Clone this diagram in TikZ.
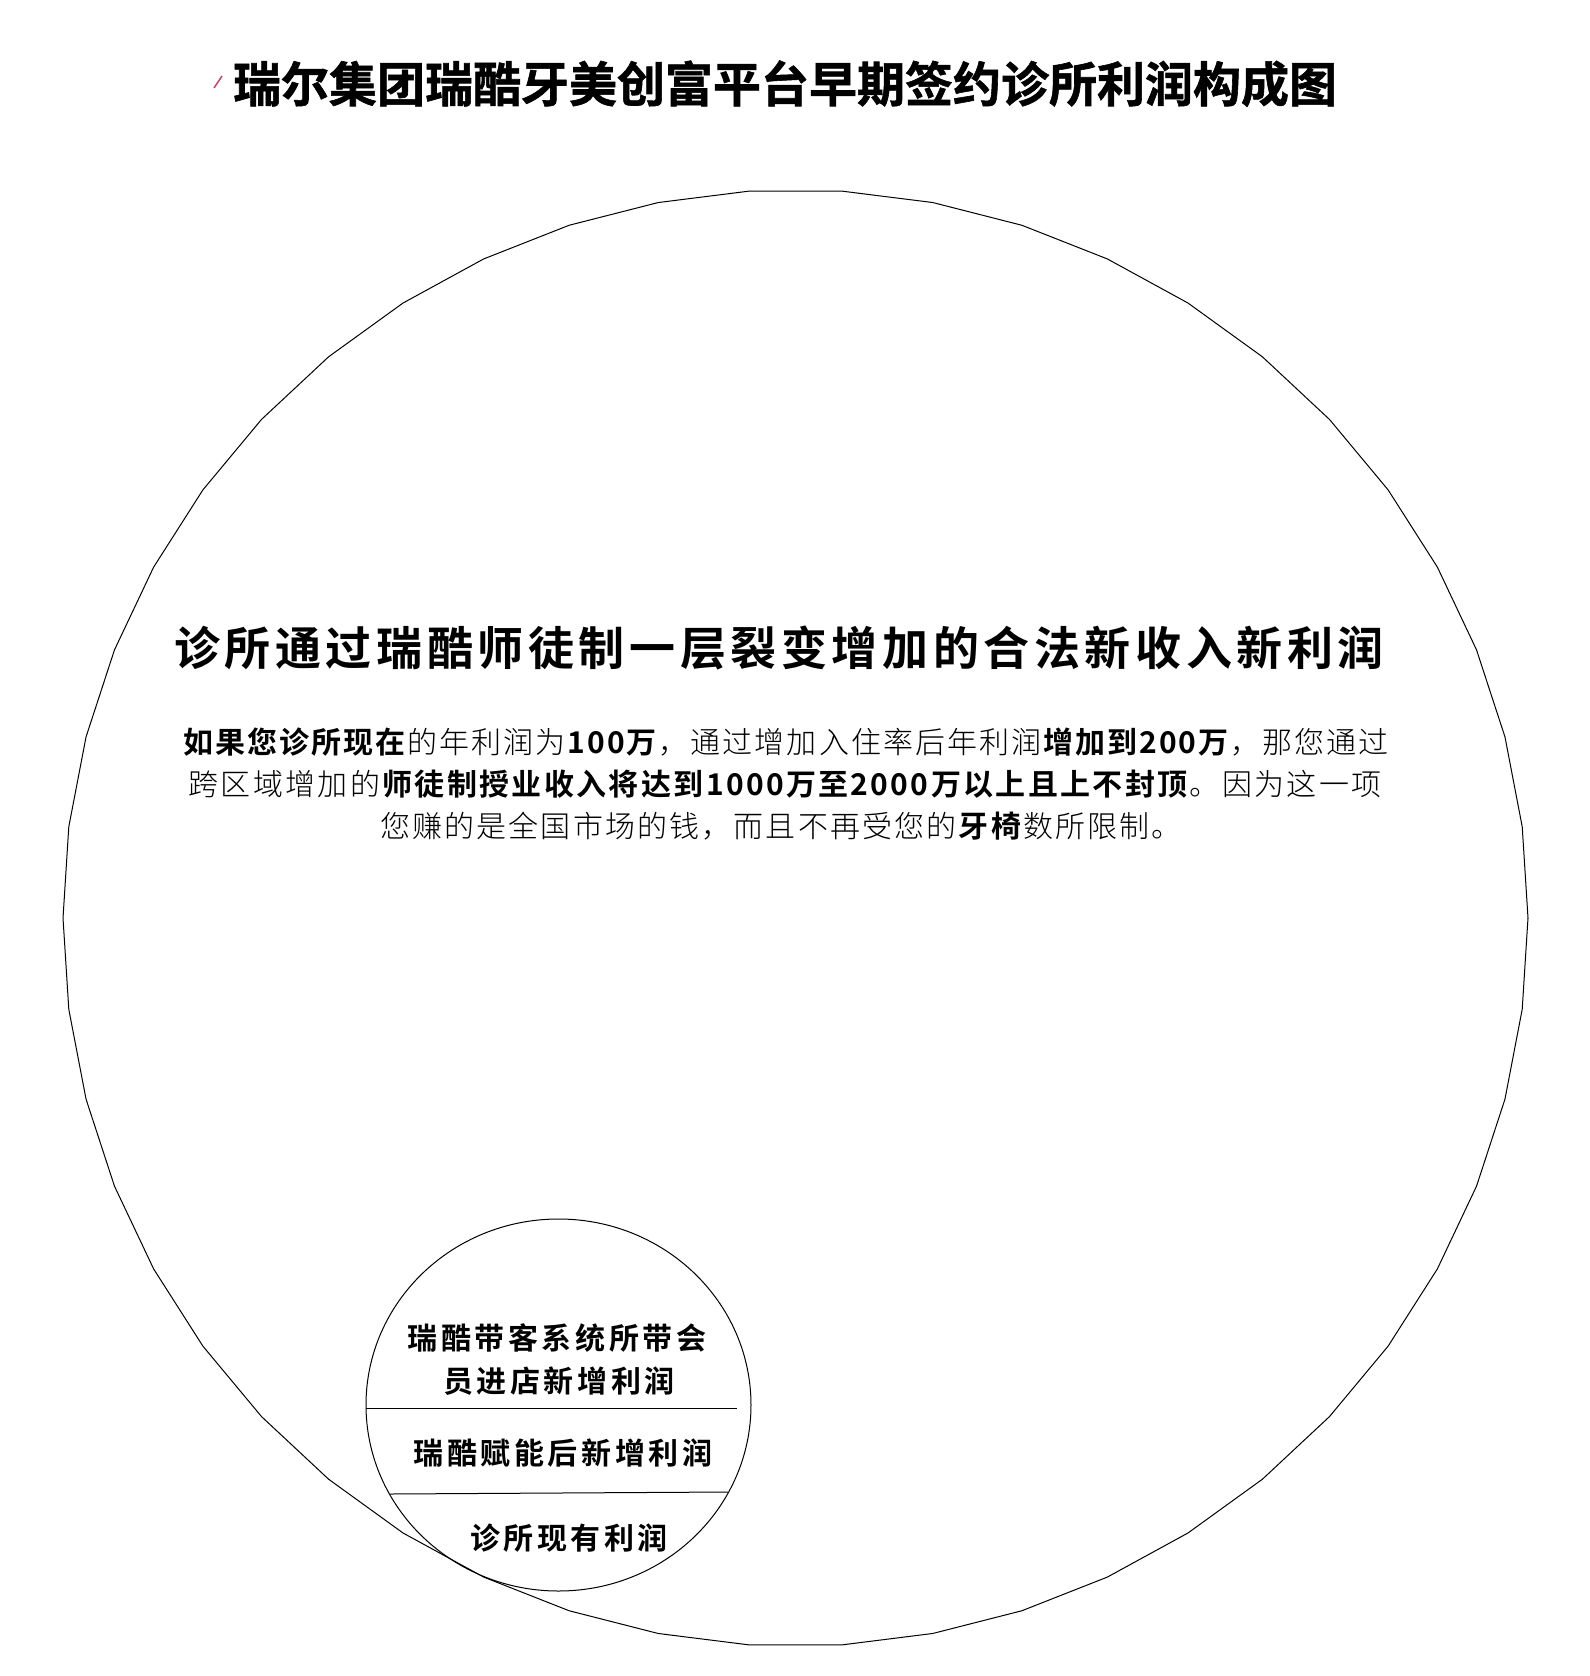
\documentclass[tikz,border=0pt]{standalone}
\usepackage{fontspec}
\setmainfont[BoldFont={Noto Sans CJK SC Bold}]{Noto Sans CJK SC Light}
\tikzset{
  lbl/.style={inner sep=0pt, anchor=base},
  ttl/.style={lbl, font=\fontsize{48}{58}\selectfont\bfseries\addfontfeature{FakeBold=1.2}},
  head/.style={lbl, font=\fontsize{46}{55}\selectfont\bfseries\addfontfeature{LetterSpace=10}},
  para/.style={lbl, font=\fontsize{30}{36}\selectfont\addfontfeature{LetterSpace=#1}},
  para/.default=7,
  seg/.style={lbl, font=\fontsize{30}{36}\selectfont\bfseries\addfontfeature{LetterSpace=12}},
  ring/.style={draw=black, line width=1pt},
  divider/.style={draw=black, line width=1pt},
}
\definecolor{markred}{RGB}{200,60,100}
\begin{document}
\begin{tikzpicture}[x=1pt, y=-1pt]
\useasboundingbox (0,0) rectangle (1590,1676);
% big faceted circle (50 sides)
\draw[ring] plot[samples=51, domain=0:360] ({795.5+732.5*cos(\x)}, {918-728.4*sin(\x)}) -- cycle;
% small circle
\draw[ring] (558.5,1405) ellipse [x radius=192.5, y radius=186];
\coordinate (d1a) at (366,1408);
\coordinate (d1b) at (737,1408);
\coordinate (d2a) at (390,1494);
\coordinate (d2b) at (728,1492);
\draw[divider] (d1a) -- (d1b);
\draw[divider] (d2a) -- (d2b);
% small mark left of title
\coordinate (m1) at (214,88);
\coordinate (m2) at (222,76);
\draw[markred, line width=1.5pt] (m1) -- (m2);
% texts
\node[ttl] (title) at (785,102) {瑞尔集团瑞酷牙美创富平台早期签约诊所利润构成图};
\node[head] (heading) at (779,665) {诊所通过瑞酷师徒制一层裂变增加的合法新收入新利润};
\node[para=6.8] (p1) at (786,753) {\textbf{如果您诊所现在}的年利润为\textbf{100万}，通过增加入住率后年利润\textbf{增加到200万}，那您通过};
\node[para=7.8] (p2) at (785,795) {跨区域增加的\textbf{师徒制授业收入将达到1000万至2000万以上且上不封顶}。因为这一项};
\node[para=7.2] (p3) at (781,837) {您赚的是全国市场的钱，而且不再受您的\textbf{牙椅}数所限制。};
\node[seg] (s1a) at (557,1349) {瑞酷带客系统所带会};
\node[seg] (s1b) at (559,1392) {员进店新增利润};
\node[seg] (s2) at (563,1464) {瑞酷赋能后新增利润};
\node[seg] (s3) at (569,1549) {诊所现有利润};
\end{tikzpicture}
\end{document}
